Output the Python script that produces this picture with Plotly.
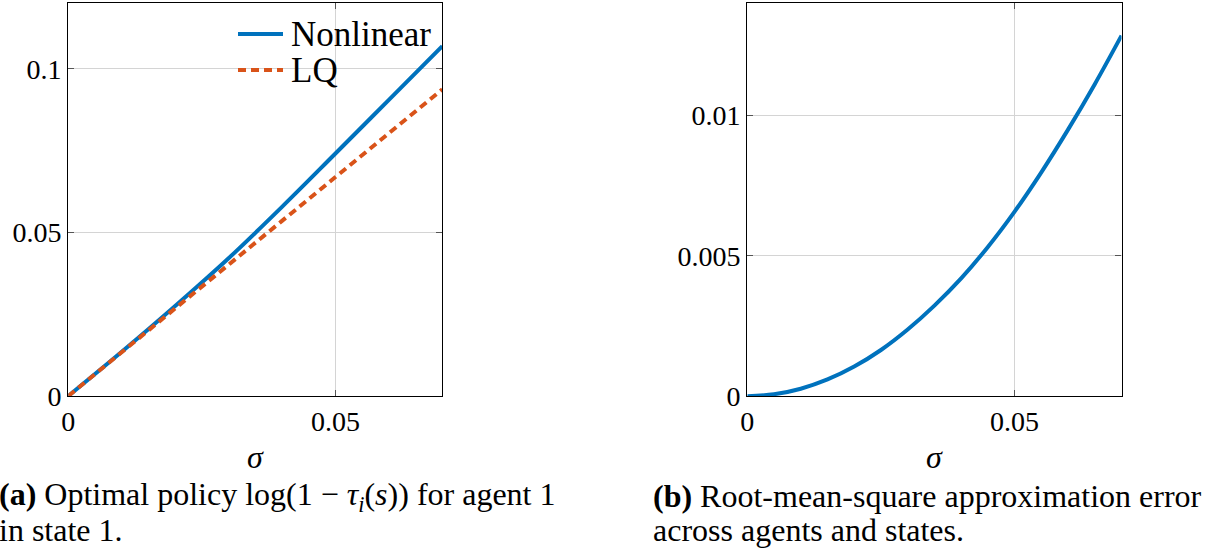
import plotly.graph_objects as go

# ---- data ----
sigma_a = [0.0, 0.01, 0.02, 0.03, 0.04, 0.05, 0.06, 0.07]
nonlinear = [0.0, 0.0135, 0.0275, 0.0421, 0.0578, 0.0741, 0.0905, 0.1069]
lq = [0.0, 0.0133, 0.0267, 0.0401, 0.0535, 0.0669, 0.0803, 0.0937]

sigma_b = [0.0, 0.005, 0.01, 0.015, 0.02, 0.025, 0.03, 0.035, 0.04,
           0.045, 0.05, 0.055, 0.06, 0.065, 0.07]
rmse = [0.0, 0.00007, 0.00027, 0.00060, 0.00106, 0.00165, 0.00238, 0.00323,
        0.00420, 0.00532, 0.00658, 0.00798, 0.00950, 0.01112, 0.01285]

series_names = ["Nonlinear", "LQ"]
x_ticks = [0, 0.05]
x_ticktext = ["0", "0.05"]
ya_ticks = [0, 0.05, 0.1]
ya_ticktext = ["0", "0.05", "0.1"]
yb_ticks = [0, 0.005, 0.01]
yb_ticktext = ["0", "0.005", "0.01"]

BLUE = "#0072BD"
ORANGE = "#D95319"
FONT = "Liberation Serif"
W, H = 1222, 552


def px_x(p):
    return p / W


def px_y(p):
    return (H - p) / H


fig = go.Figure()
fig.add_trace(go.Scatter(x=sigma_a, y=nonlinear, mode="lines", name=series_names[0],
                         line=dict(color=BLUE, width=4, shape="spline"),
                         xaxis="x", yaxis="y", showlegend=False))
fig.add_trace(go.Scatter(x=sigma_a, y=lq, mode="lines", name=series_names[1],
                         line=dict(color=ORANGE, width=4, dash="8px,5px"),
                         xaxis="x", yaxis="y", showlegend=False))
fig.add_trace(go.Scatter(x=sigma_b, y=rmse, mode="lines", showlegend=False,
                         line=dict(color=BLUE, width=4, shape="spline"),
                         xaxis="x2", yaxis="y2"))

common_axis = dict(
    showline=True, linecolor="black", linewidth=1.2, mirror="ticks",
    showgrid=True, gridcolor="#d4d4d4", gridwidth=1,
    ticks="inside", ticklen=6, tickcolor="#555555", tickwidth=1,
    zeroline=False, automargin=False,
    tickfont=dict(family=FONT, size=28, color="black"),
)

fig.update_layout(
    width=W, height=H,
    margin=dict(l=0, r=0, t=0, b=0),
    paper_bgcolor="white", plot_bgcolor="white",
    font=dict(family=FONT, size=28, color="black"),
    xaxis=dict(domain=[px_x(68.3), px_x(442.3)], range=[0, 0.07], anchor="y",
               tickvals=x_ticks, ticktext=x_ticktext, **common_axis),
    yaxis=dict(domain=[px_y(396), px_y(3.3)], range=[0, 0.12], anchor="x",
               tickvals=ya_ticks, ticktext=ya_ticktext, **common_axis),
    xaxis2=dict(domain=[px_x(747.3), px_x(1121.5)], range=[0, 0.07], anchor="y2",
                tickvals=x_ticks, ticktext=x_ticktext, **common_axis),
    yaxis2=dict(domain=[px_y(396.3), px_y(3.3)], range=[0, 0.014], anchor="x2",
                tickvals=yb_ticks, ticktext=yb_ticktext, **common_axis),
    showlegend=False,
)

# manual legend (line samples + labels)
shapes = [
    dict(type="line", xref="paper", yref="paper",
         x0=px_x(238), x1=px_x(283), y0=px_y(34), y1=px_y(34),
         line=dict(color=BLUE, width=4)),
    dict(type="line", xref="paper", yref="paper",
         x0=px_x(238), x1=px_x(283), y0=px_y(70), y1=px_y(70),
         line=dict(color=ORANGE, width=4, dash="8px,5px")),
]
fig.update_layout(shapes=shapes)

annotations = [
    dict(text=series_names[0], x=px_x(289), y=px_y(34), xref="paper", yref="paper",
         showarrow=False, xanchor="left", yanchor="middle",
         font=dict(family=FONT, size=35)),
    dict(text=series_names[1], x=px_x(289), y=px_y(70), xref="paper", yref="paper",
         showarrow=False, xanchor="left", yanchor="middle",
         font=dict(family=FONT, size=35)),
    dict(text="<i>σ</i>", x=(px_x(68.3) + px_x(442.3)) / 2, y=px_y(457),
         xref="paper", yref="paper", showarrow=False,
         xanchor="center", yanchor="middle", font=dict(family=FONT, size=32)),
    dict(text="<i>σ</i>", x=(px_x(747.3) + px_x(1121.5)) / 2, y=px_y(457),
         xref="paper", yref="paper", showarrow=False,
         xanchor="center", yanchor="middle", font=dict(family=FONT, size=32)),
    dict(text="<b>(a)</b> Optimal policy log(1 − <i>τ<sub>i</sub></i>(<i>s</i>)) for agent 1",
         x=px_x(-3), y=px_y(496), xref="paper", yref="paper", showarrow=False,
         xanchor="left", yanchor="middle", align="left",
         font=dict(family=FONT, size=32)),
    dict(text="in state 1.",
         x=px_x(-3), y=px_y(530), xref="paper", yref="paper", showarrow=False,
         xanchor="left", yanchor="middle", align="left",
         font=dict(family=FONT, size=32)),
    dict(text="<b>(b)</b> Root-mean-square approximation error",
         x=px_x(651), y=px_y(496), xref="paper", yref="paper", showarrow=False,
         xanchor="left", yanchor="middle", align="left",
         font=dict(family=FONT, size=32)),
    dict(text="across agents and states.",
         x=px_x(651), y=px_y(530), xref="paper", yref="paper", showarrow=False,
         xanchor="left", yanchor="middle", align="left",
         font=dict(family=FONT, size=32)),
]
fig.update_layout(annotations=annotations)

fig.write_html(
    "out.html",
    config={"displayModeBar": False},
    post_script="document.body.style.margin='0px';document.body.style.overflow='hidden';",
)
